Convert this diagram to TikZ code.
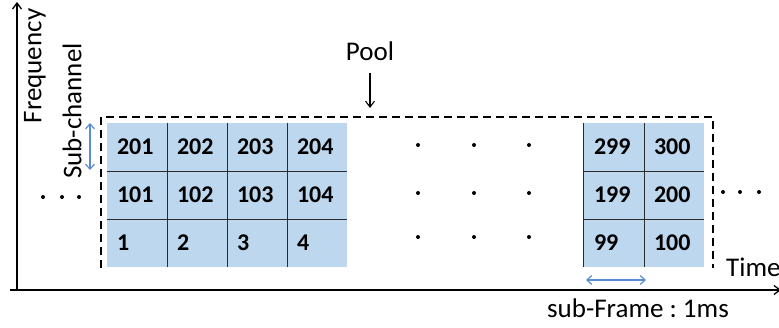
\documentclass[tikz,border=0pt]{standalone}
\usepackage{fontspec}
\setmainfont{Carlito}
\usepackage{xcolor}
\usetikzlibrary{arrows.meta}
\definecolor{cellblue}{HTML}{BDD7EE}
\definecolor{markblue}{HTML}{5B8BD5}
\definecolor{gridgray}{HTML}{2A2A2A}

\begin{document}
\begin{tikzpicture}[x=1pt,y=1pt,
	cell/.style={fill=cellblue, minimum height=48pt, text width=40pt, inner xsep=10pt, inner ysep=0pt, align=left, font=\fontsize{24}{26}\selectfont\bfseries},
	txt/.style={font=\fontsize{27}{30}\selectfont, inner sep=0pt},
	gridline/.style={color=gridgray, line width=1.2pt},
	pool/.style={line width=2.4pt, dash pattern=on 8pt off 5pt},
	axis/.style={line width=1.3pt, -{Straight Barb[length=6pt,width=9pt]}},
	span/.style={color=markblue, line width=1.2pt, {Straight Barb[length=5pt,width=9pt]}-{Straight Barb[length=5pt,width=9pt]}}]
				\useasboundingbox (0,0) rectangle (779,327);
				% axes
				\coordinate (origin) at (17,37);
				\coordinate (axisleft) at (10,37);
				\coordinate (freqtop) at (17,325);
				\coordinate (timeend) at (781,37);
				\draw[axis] (origin) -- (freqtop);
				\draw[axis] (axisleft) -- (timeend);
				\node[txt, rotate=90] (freq) at (35,261) {Frequency};
				\node[txt, anchor=west] (time) at (726,60) {Time};
				% resource blocks
				\foreach \r/\base/\y in {1/200/180, 2/100/132, 3/0/84}
					\foreach \c in {1,...,4} {
						\pgfmathtruncatemacro{\num}{\base+\c}
						\node[cell] (L-\r-\c) at ({77+60*\c},\y) {\num};
					}
				\foreach \r/\base/\y in {1/298/180, 2/198/132, 3/98/84}
					\foreach \c in {1,2} {
						\pgfmathtruncatemacro{\num}{\base+\c}
						\node[cell] (R-\r-\c) at ({554+60*\c},\y) {\num};
					}
				\foreach \c in {1,2,3}
					\draw[gridline] (L-1-\c.north east) -- (L-3-\c.south east);
				\foreach \r in {1,2} {
					\draw[gridline] (L-\r-1.south west) -- (L-\r-4.south east);
					\draw[gridline] (R-\r-1.south west) -- (R-\r-2.south east);
				}
				\draw[gridline] (R-1-1.north west) -- (R-3-1.south west);
				\draw[gridline] (R-1-1.north east) -- (R-3-1.south east);
				% pool
				\draw[pool] (101,59) -- (101,210) -- (713,210) -- (713,59);
				\node[txt] (poolname) at (370,276) {Pool};
				\coordinate (pooltip) at (370,219);
				\draw[-{Straight Barb[length=6pt,width=9pt]}, line width=1.1pt, shorten <=12pt] (poolname.south) -- (pooltip);
				% dots
				\foreach \x in {418,474,529}
					\foreach \y in {182,134,90}
						\fill (\x,\y) circle (2pt);
				\foreach \x in {43,62,79}
					\fill (\x,130) circle (2pt);
				\foreach \x in {723,740,759}
					\fill (\x,135) circle (2pt);
				% sub-channel and sub-frame
				\node[txt, rotate=90] (subch) at (72,216) {Sub-channel};
				\coordinate (chtop) at (90,204);
				\coordinate (chbot) at (90,157);
				\draw[span] (chtop) -- (chbot);
				\coordinate (sfleft) at (586,47);
				\coordinate (sfright) at (646,47);
				\draw[span] (sfleft) -- (sfright);
				\node[txt] (subframe) at (638,19) {sub-Frame :\ 1ms};
			\end{tikzpicture}
\end{document}
